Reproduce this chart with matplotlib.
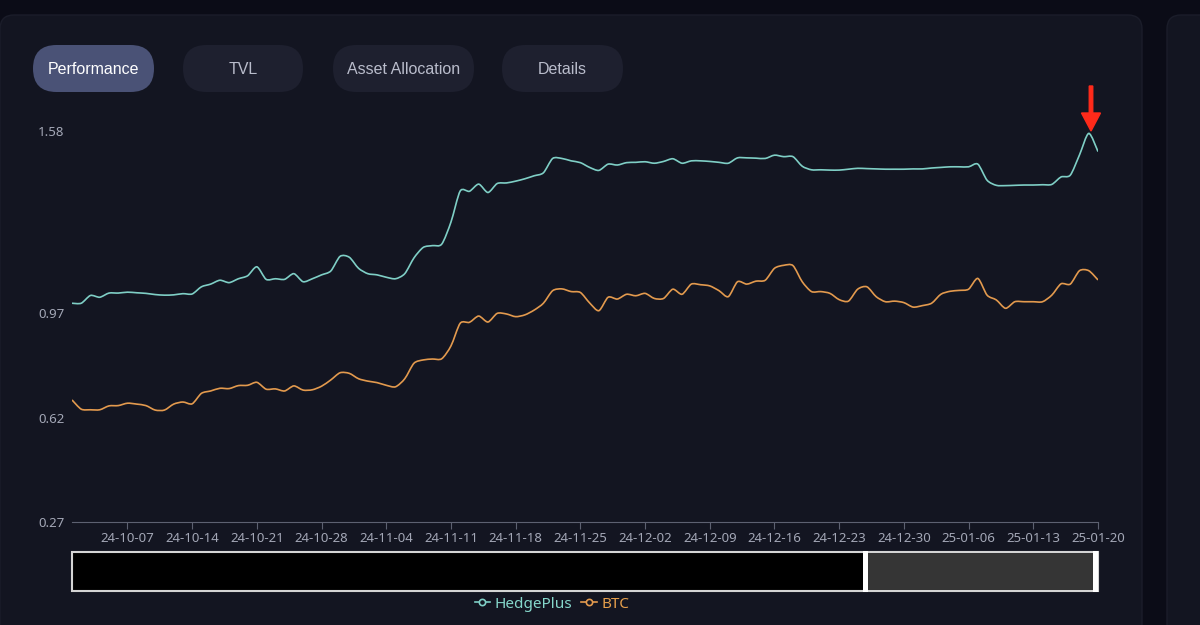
import matplotlib
matplotlib.use('Agg')
import matplotlib.pyplot as plt
import matplotlib.dates as mdates
from matplotlib.patches import FancyBboxPatch, Rectangle, FancyArrow, PathPatch
from matplotlib.path import Path
from matplotlib.lines import Line2D
import numpy as np
import pandas as pd

#Data (one value per day)
dates = pd.date_range("2024-10-01", "2025-01-20", freq="D")
hedgeplus = [1.003, 1.003, 1.029, 1.023, 1.037, 1.037, 1.040, 1.038, 1.036, 1.032,
             1.030, 1.031, 1.035, 1.034, 1.058, 1.067, 1.080, 1.072, 1.085, 1.095,
             1.125, 1.083, 1.085, 1.083, 1.102, 1.075, 1.085, 1.098, 1.111, 1.160,
             1.157, 1.120, 1.102, 1.098, 1.090, 1.085, 1.102, 1.155, 1.190, 1.196,
             1.201, 1.275, 1.379, 1.378, 1.402, 1.374, 1.404, 1.406, 1.412, 1.420,
             1.430, 1.440, 1.488, 1.488, 1.480, 1.474, 1.458, 1.448, 1.469, 1.466,
             1.474, 1.475, 1.477, 1.472, 1.478, 1.487, 1.472, 1.480, 1.480, 1.478,
             1.475, 1.472, 1.490, 1.490, 1.489, 1.488, 1.499, 1.494, 1.494, 1.462,
             1.450, 1.450, 1.449, 1.449, 1.452, 1.455, 1.454, 1.453, 1.452, 1.452,
             1.452, 1.453, 1.453, 1.456, 1.458, 1.460, 1.460, 1.460, 1.469, 1.415,
             1.398, 1.397, 1.398, 1.399, 1.399, 1.400, 1.401, 1.426, 1.432, 1.500,
             1.572, 1.511]
btc = [0.679, 0.648, 0.646, 0.646, 0.659, 0.660, 0.668, 0.665, 0.660, 0.645,
       0.645, 0.665, 0.672, 0.666, 0.701, 0.709, 0.718, 0.717, 0.727, 0.728,
       0.738, 0.715, 0.716, 0.709, 0.726, 0.712, 0.713, 0.725, 0.746, 0.770,
       0.768, 0.750, 0.742, 0.737, 0.728, 0.723, 0.750, 0.802, 0.813, 0.816,
       0.817, 0.860, 0.936, 0.939, 0.960, 0.940, 0.969, 0.967, 0.958, 0.964,
       0.980, 1.003, 1.045, 1.051, 1.042, 1.039, 1.004, 0.978, 1.023, 1.017,
       1.033, 1.028, 1.036, 1.019, 1.019, 1.050, 1.033, 1.067, 1.065, 1.061,
       1.045, 1.025, 1.075, 1.067, 1.077, 1.080, 1.120, 1.130, 1.129, 1.075,
       1.042, 1.042, 1.036, 1.015, 1.010, 1.050, 1.058, 1.025, 1.008, 1.010,
       1.005, 0.990, 0.995, 1.003, 1.033, 1.043, 1.046, 1.050, 1.086, 1.030,
       1.014, 0.986, 1.008, 1.008, 1.008, 1.008, 1.030, 1.068, 1.067, 1.112,
       1.112, 1.081]
yticks = [0.27, 0.62, 0.97, 1.58]
tabs = ["Performance", "TVL", "Asset Allocation", "Details"]

teal = '#7fcfc6'
orange = '#e39a4e'
W, H = 1200, 625


def smooth_path(x, y, t=0.8):
    #bezier path through every point (echarts-like smooth line)
    x = np.asarray(x, float)
    y = np.asarray(y, float)
    n = len(x)
    verts = [(x[0], y[0])]
    codes = [Path.MOVETO]
    for i in range(n - 1):
        p0 = max(i - 1, 0)
        p3 = min(i + 2, n - 1)
        c1 = (x[i] + (x[i + 1] - x[p0]) / 6 * t, y[i] + (y[i + 1] - y[p0]) / 6 * t)
        c2 = (x[i + 1] - (x[p3] - x[i]) / 6 * t, y[i + 1] - (y[p3] - y[i]) / 6 * t)
        verts += [c1, c2, (x[i + 1], y[i + 1])]
        codes += [Path.CURVE4] * 3
    return Path(verts, codes)


fig = plt.figure(figsize=(12, 6.25), dpi=100, facecolor='#0b0c17')

#background layer in pixel coords (y down)
bg = fig.add_axes([0, 0, 1, 1], zorder=0)
bg.set_xlim(0, W)
bg.set_ylim(H, 0)
bg.axis('off')
bg.add_patch(FancyBboxPatch((0, 15), 1142, 700, boxstyle="round,pad=0,rounding_size=14",
                            facecolor='#131521', edgecolor='#1b1d2a', lw=1))
bg.add_patch(FancyBboxPatch((1167, 15), 80, 700, boxstyle="round,pad=0,rounding_size=14",
                            facecolor='#131521', edgecolor='#1b1d2a', lw=1))

#tab buttons
tab_x = [(33, 154), (183, 303), (333, 474), (502, 623)]
for i, (name, (x0, x1)) in enumerate(zip(tabs, tab_x)):
    fc = '#4a5276' if i == 0 else '#1e202f'
    tc = '#ffffff' if i == 0 else '#b9bccb'
    bg.add_patch(FancyBboxPatch((x0, 45), x1 - x0, 47, boxstyle="round,pad=0,rounding_size=23.5",
                                facecolor=fc, edgecolor='none'))
    bg.text((x0 + x1) / 2, 69, name, color=tc, fontsize=11.5, family='Liberation Sans',
            ha='center', va='center')

#data zoom slider
bg.add_patch(Rectangle((72, 551.5), 1026, 39.5, facecolor='#000000', edgecolor='#d4d4d4', lw=1.5))
bg.add_patch(Rectangle((868, 552.5), 225, 37.5, facecolor='#353535', edgecolor='none'))
bg.add_patch(Rectangle((863, 551), 5, 40.5, facecolor='#ffffff', edgecolor='none'))
bg.add_patch(Rectangle((1093, 551), 5, 40.5, facecolor='#ffffff', edgecolor='none'))

#red arrow
bg.add_patch(FancyArrow(1091, 86, 0, 45, width=3.5, head_width=19, head_length=18,
                        length_includes_head=True, color='#ff2a1a'))

#main chart
ax = fig.add_axes([72 / W, (H - 522) / H, (1098 - 72) / W, (522 - 131) / H], zorder=1)
ax.patch.set_alpha(0)
xnum = mdates.date2num(dates)
ax.add_patch(PathPatch(smooth_path(xnum, hedgeplus), facecolor='none', edgecolor=teal, lw=1.2))
ax.add_patch(PathPatch(smooth_path(xnum, btc), facecolor='none', edgecolor=orange, lw=1.2))
ax.xaxis_date()
ax.set_xlim(dates[0], dates[-1])
ax.set_ylim(yticks[0], yticks[-1])
ax.set_yticks(yticks)
ax.set_yticklabels([f"{v:.2f}" for v in yticks])
ax.xaxis.set_major_locator(mdates.WeekdayLocator(byweekday=mdates.MO))
ax.xaxis.set_major_formatter(mdates.DateFormatter('%y-%m-%d'))
for s in ['top', 'right', 'left']:
    ax.spines[s].set_visible(False)
ax.spines['bottom'].set_color('#5d6171')
ax.tick_params(axis='y', length=0, pad=5.5, labelcolor='#a3a7b6', labelsize=9.5)
ax.tick_params(axis='x', length=5, color='#5d6171', pad=2, labelcolor='#a3a7b6', labelsize=9.5)
for lab in ax.get_xticklabels() + ax.get_yticklabels():
    lab.set_family('Noto Sans')

#legend
handles = [Line2D([], [], color=teal, lw=1.2, marker='o', markersize=4.5,
                  markerfacecolor='#131521', markeredgewidth=1.2),
           Line2D([], [], color=orange, lw=1.2, marker='o', markersize=4.5,
                  markerfacecolor='#131521', markeredgewidth=1.2)]
leg = fig.legend(handles, ["HedgePlus", "BTC"], loc='center', bbox_to_anchor=(552 / W, 1 - 604 / H),
                 ncol=2, frameon=False, handlelength=1.0, handletextpad=0.3, columnspacing=0.6,
                 prop={'family': 'Noto Sans', 'size': 11})
for t, c in zip(leg.get_texts(), ['#86d8cc', '#e8a04c']):
    t.set_color(c)

fig.savefig('out.png', dpi=100, facecolor=fig.get_facecolor())
